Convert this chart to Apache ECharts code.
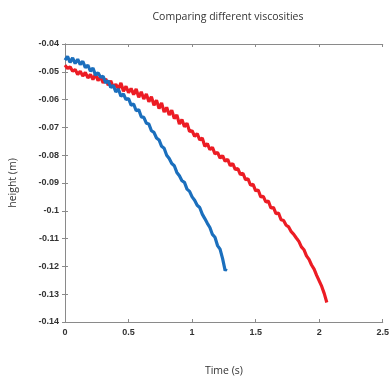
<!DOCTYPE html>
<html><head><meta charset="utf-8">
<script src="https://cdn.jsdelivr.net/npm/echarts@6/dist/echarts.min.js"></script>
<style>html,body{margin:0;padding:0;background:#fff}#c{width:392px;height:382px}</style>
</head><body><div id="c"></div>
<script>
const titleText = "Comparing different viscosities";
const xName = "Time (s)";
const yName = "height (m)";
const seriesNames = ["Blue", "Red"];
const blueT = [0,0.02,0.04,0.06,0.08,0.10,0.12,0.14,0.16,0.18,0.20,0.22,0.24,0.26,0.28,0.30,0.32,0.34,0.36,0.38,0.40,0.42,0.44,0.46,0.48,0.50,0.52,0.54,0.56,0.58,0.60,0.62,0.64,0.66,0.68,0.70,0.72,0.74,0.76,0.78,0.80,0.82,0.84,0.86,0.88,0.90,0.92,0.94,0.96,0.98,1.00,1.02,1.04,1.06,1.08,1.10,1.12,1.14,1.16,1.18,1.20,1.22,1.24,1.26,1.27];
const blueH = [-0.0458,-0.0445,-0.0466,-0.0450,-0.0470,-0.0455,-0.0474,-0.0462,-0.0485,-0.0476,-0.0498,-0.0486,-0.0512,-0.0503,-0.0520,-0.0516,-0.0540,-0.0532,-0.0556,-0.0549,-0.0572,-0.0562,-0.0588,-0.0580,-0.0600,-0.0596,-0.0620,-0.0616,-0.0640,-0.0636,-0.0662,-0.0664,-0.0685,-0.0688,-0.0712,-0.0718,-0.0738,-0.0745,-0.0768,-0.0775,-0.0800,-0.0812,-0.0830,-0.0838,-0.0862,-0.0874,-0.0892,-0.0898,-0.0922,-0.0930,-0.0950,-0.0962,-0.0980,-0.0988,-0.1012,-0.1028,-0.1045,-0.1060,-0.1085,-0.1095,-0.1125,-0.1138,-0.1172,-0.1215,-0.1208];
const redT = [0,0.02,0.04,0.06,0.08,0.10,0.12,0.14,0.16,0.18,0.20,0.22,0.24,0.26,0.28,0.30,0.32,0.34,0.36,0.38,0.40,0.42,0.44,0.46,0.48,0.50,0.52,0.54,0.56,0.58,0.60,0.62,0.64,0.66,0.68,0.70,0.72,0.74,0.76,0.78,0.80,0.82,0.84,0.86,0.88,0.90,0.92,0.94,0.96,0.98,1.00,1.02,1.04,1.06,1.08,1.10,1.12,1.14,1.16,1.18,1.20,1.22,1.24,1.26,1.28,1.30,1.32,1.34,1.36,1.38,1.40,1.42,1.44,1.46,1.48,1.50,1.52,1.54,1.56,1.58,1.60,1.62,1.64,1.66,1.68,1.70,1.72,1.74,1.76,1.78,1.80,1.82,1.84,1.86,1.88,1.90,1.92,1.94,1.96,1.98,2.00,2.02,2.04,2.06];
const redH = [-0.0476,-0.0488,-0.0482,-0.0498,-0.0492,-0.0510,-0.0498,-0.0515,-0.0502,-0.0522,-0.0510,-0.0528,-0.0508,-0.0532,-0.0518,-0.0540,-0.0525,-0.0548,-0.0532,-0.0556,-0.0545,-0.0562,-0.0540,-0.0570,-0.0552,-0.0575,-0.0560,-0.0582,-0.0562,-0.0592,-0.0572,-0.0598,-0.0580,-0.0608,-0.0590,-0.0620,-0.0602,-0.0632,-0.0612,-0.0645,-0.0628,-0.0655,-0.0638,-0.0668,-0.0655,-0.0688,-0.0672,-0.0698,-0.0685,-0.0715,-0.0712,-0.0732,-0.0722,-0.0745,-0.0738,-0.0768,-0.0758,-0.0780,-0.0772,-0.0795,-0.0790,-0.0810,-0.0802,-0.0822,-0.0815,-0.0838,-0.0830,-0.0852,-0.0848,-0.0870,-0.0865,-0.0888,-0.0885,-0.0908,-0.0905,-0.0928,-0.0925,-0.0950,-0.0948,-0.0968,-0.0965,-0.0990,-0.0988,-0.1010,-0.1008,-0.1032,-0.1035,-0.1052,-0.1058,-0.1075,-0.1085,-0.1098,-0.1110,-0.1130,-0.1140,-0.1162,-0.1175,-0.1195,-0.1210,-0.1232,-0.1252,-0.1272,-0.1298,-0.1330];

const zip = (a, b) => a.map((v, i) => [v, b[i]]);
const fmtY = v => parseFloat(v.toFixed(2)).toString();
const fmtX = v => parseFloat(v.toFixed(1)).toString();
const axisLine = {show: true, lineStyle: {color: '#8a8a8a', width: 1}};
const tick = {show: true, inside: true, length: 3, lineStyle: {color: '#8a8a8a'}};
const lbl = {fontFamily: 'Liberation Sans, Arial', fontSize: 9, fontWeight: 'bold', color: '#333'};

const chart = echarts.init(document.getElementById('c'), null, {renderer: 'canvas'});
chart.setOption({
  animation: false,
  backgroundColor: '#fff',
  title: {text: titleText, left: 223, top: 7, textAlign: 'center',
    textStyle: {fontFamily: 'Open Sans, Liberation Sans', fontSize: 10.5, fontWeight: 'normal', color: '#333'}},
  grid: {left: 64, right: 8, top: 44, bottom: 58},
  xAxis: [
    {type: 'value', min: 0, max: 2.5, interval: 0.5, axisLine, axisTick: tick, splitLine: {show: false},
     axisLabel: Object.assign({formatter: fmtX, margin: 6}, lbl),
     name: xName, nameLocation: 'middle', nameGap: 44,
     nameTextStyle: {fontFamily: 'Open Sans, Liberation Sans', fontSize: 10.5, color: '#333'}},
    {type: 'value', position: 'top', min: 0, max: 2.5, interval: 0.5, axisLine, axisTick: tick,
     axisLabel: {show: false}, splitLine: {show: false}}
  ],
  yAxis: [
    {type: 'value', min: -0.14, max: -0.04, interval: 0.01, axisLine, axisTick: tick, splitLine: {show: false},
     axisLabel: Object.assign({formatter: fmtY, margin: 6}, lbl),
     name: yName, nameLocation: 'middle', nameGap: 46, nameRotate: 90,
     nameTextStyle: {fontFamily: 'Open Sans, Liberation Sans', fontSize: 10.5, color: '#333'}},
    {type: 'value', position: 'right', min: -0.14, max: -0.04, interval: 0.01, axisLine, axisTick: tick,
     axisLabel: {show: false}, splitLine: {show: false}}
  ],
  series: [
    {name: seriesNames[1], type: 'line', data: zip(redT, redH), showSymbol: false, symbol: 'none',
     lineStyle: {color: '#ec1c24', width: 3.2}, z: 2},
    {name: seriesNames[0], type: 'line', data: zip(blueT, blueH), showSymbol: false, symbol: 'none',
     lineStyle: {color: '#1b6fbd', width: 3.2}, z: 3}
  ]
});
</script></body></html>
